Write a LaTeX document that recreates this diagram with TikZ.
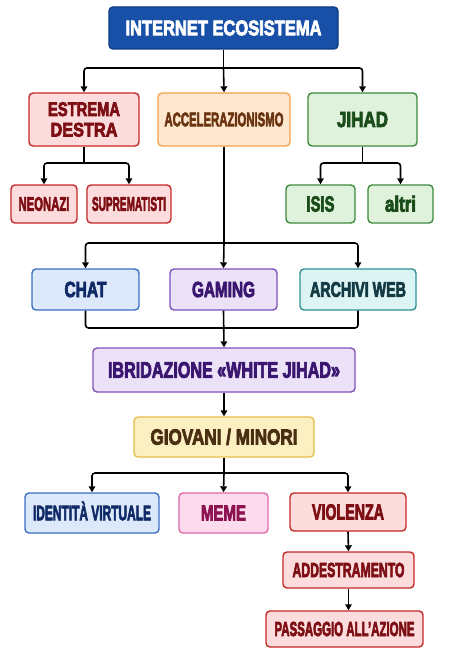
\documentclass[tikz,border=0pt]{standalone}
\usepackage{fontspec}
\setmainfont[BoldFeatures={FakeBold=4}]{Liberation Sans}
\usetikzlibrary{arrows.meta}
\newcommand\mytx[3]{\resizebox{#2pt}{#1pt}{\fontsize{20}{20}\selectfont\bfseries\raisebox{0pt}[\fontcharht\font`\I][0pt]{#3}}}
\definecolor{redfill}{HTML}{FCDCDC}\definecolor{redline}{HTML}{C62828}\definecolor{redtext}{HTML}{7D0F14}
\definecolor{orfill}{HTML}{FDE8CF}\definecolor{orline}{HTML}{F2A347}\definecolor{ortext}{HTML}{6B3410}
\definecolor{grfill}{HTML}{E0F2DC}\definecolor{grline}{HTML}{3D8B3D}\definecolor{grtext}{HTML}{1B4D1B}
\definecolor{blfill}{HTML}{DDE9FA}\definecolor{blline}{HTML}{3A6FC4}\definecolor{bltext}{HTML}{0F2A66}
\definecolor{vifill}{HTML}{ECE2F8}\definecolor{viline}{HTML}{7E52BC}\definecolor{vitext}{HTML}{3B1670}
\definecolor{tefill}{HTML}{DDF4F4}\definecolor{teline}{HTML}{2E8F94}\definecolor{tetext}{HTML}{143A44}
\definecolor{yefill}{HTML}{FCEFC2}\definecolor{yeline}{HTML}{E6BE4A}\definecolor{yetext}{HTML}{4A2E12}
\definecolor{pifill}{HTML}{FCDCEC}\definecolor{piline}{HTML}{E06AA8}\definecolor{pitext}{HTML}{8C1252}
\definecolor{tifill}{HTML}{1850A8}\definecolor{tiline}{HTML}{0D3B85}
\tikzset{
  box/.style={draw, line width=1.4pt, rounded corners=4pt, inner sep=0pt, align=center, font=\fontsize{12}{20.5}\selectfont},
  redbox/.style={box, fill=redfill, draw=redline, text=redtext},
  orbox/.style={box, fill=orfill, draw=orline, text=ortext},
  grbox/.style={box, fill=grfill, draw=grline, text=grtext},
  blbox/.style={box, fill=blfill, draw=blline, text=bltext},
  vibox/.style={box, fill=vifill, draw=viline, text=vitext},
  tebox/.style={box, fill=tefill, draw=teline, text=tetext},
  yebox/.style={box, fill=yefill, draw=yeline, text=yetext},
  pibox/.style={box, fill=pifill, draw=piline, text=pitext},
  tibox/.style={box, fill=tifill, draw=tiline, text=white},
  wire/.style={line width=1.6pt, black, rounded corners=3pt},
  arr/.style={wire, -{Triangle[length=6pt,width=6.5pt]}},
}
\begin{document}
\begin{tikzpicture}[x=1pt,y=-1pt]
\useasboundingbox[fill=white] (0,0) rectangle (450,671);
\node[tibox, minimum width=229pt, minimum height=42pt] (title) at (223.5,28) {\mytx{14.5}{196}{INTERNET ECOSISTEMA}};
\node[redbox, minimum width=110pt, minimum height=53pt] (ed) at (84,119.5) {\mytx{13.5}{72}{ESTREMA}\\\mytx{13.5}{67}{DESTRA}};
\node[orbox, minimum width=132pt, minimum height=53pt] (acc) at (224,119.5) {\mytx{13.5}{119}{ACCELERAZIONISMO}};
\node[grbox, minimum width=109pt, minimum height=53pt] (jihad) at (362.5,119.5) {\mytx{15}{51}{JIHAD}};
\node[redbox, minimum width=66pt, minimum height=38pt] (neo) at (44,204) {\mytx{13.5}{51}{NEONAZI}};
\node[redbox, minimum width=84pt, minimum height=38pt] (sup) at (129,204) {\mytx{13.5}{74}{SUPREMATISTI}};
\node[grbox, minimum width=69pt, minimum height=38pt] (isis) at (320.5,204) {\mytx{15}{28}{ISIS}};
\node[grbox, minimum width=65pt, minimum height=38pt] (altri) at (400.5,204) {\mytx{15}{31}{altri}};
\node[blbox, minimum width=107pt, minimum height=41pt] (chat) at (85.5,289.5) {\mytx{15}{42}{CHAT}};
\node[vibox, minimum width=107pt, minimum height=41pt] (gaming) at (223.5,289.5) {\mytx{15}{63}{GAMING}};
\node[tebox, minimum width=116pt, minimum height=41pt] (archivi) at (358,289.5) {\mytx{14.5}{96}{ARCHIVI WEB}};
\node[vibox, minimum width=262pt, minimum height=44pt] (ibr) at (224,370) {\mytx{15.5}{232}{IBRIDAZIONE «WHITE JIHAD»}};
\node[yebox, minimum width=180pt, minimum height=40pt] (gio) at (224,437) {\mytx{15}{147}{GIOVANI / MINORI}};
\node[blbox, minimum width=134pt, minimum height=40pt] (ident) at (92,513) {\mytx{14.5}{118}{IDENTITÀ VIRTUALE}};
\node[pibox, minimum width=89pt, minimum height=40pt] (meme) at (223.5,513) {\mytx{15}{45}{MEME}};
\node[redbox, minimum width=116pt, minimum height=38pt] (viol) at (348,512) {\mytx{15}{72}{VIOLENZA}};
\node[redbox, minimum width=131pt, minimum height=36pt] (add) at (348.5,570) {\mytx{14}{112}{ADDESTRAMENTO}};
\node[redbox, minimum width=157pt, minimum height=36pt] (pass) at (344.5,629) {\mytx{14}{140}{PASSAGGIO ALL'AZIONE}};
% connectors
\coordinate (j1) at (223.5,68);
\draw[wire] (title.south) -- (j1);
\draw[arr] (j1) -| (ed.north);
\draw[arr] (j1) -- (acc.north);
\draw[arr] (j1) -| (jihad.north);
\coordinate (j2) at (84,163);
\draw[wire] (ed.south) -- (j2);
\draw[arr] (j2) -| (neo.north);
\draw[arr] (j2) -| (sup.north);
\coordinate (j3) at (362.5,163);
\draw[wire] (jihad.south) -- (j3);
\draw[arr] (j3) -| (isis.north);
\draw[arr] (j3) -| (altri.north);
\coordinate (j4) at (224,243);
\draw[wire] (acc.south) -- (j4);
\draw[arr] (j4) -| (chat.north);
\draw[arr] (j4) -- (gaming.north);
\draw[arr] (j4) -| (archivi.north);
\coordinate (j5) at (223.5,328);
\draw[wire] (chat.south) |- (j5);
\draw[wire] (archivi.south) |- (j5);
\draw[arr] (gaming.south) -- (ibr.north);
\draw[arr] (ibr.south) -- (gio.north);
\coordinate (j6) at (224,473);
\draw[wire] (gio.south) -- (j6);
\draw[arr] (j6) -| (ident.north);
\draw[arr] (j6) -- (meme.north);
\draw[arr] (j6) -| (viol.north);
\draw[arr] (viol.south) -- (add.north);
\draw[arr] (add.south) -- (add.south |- pass.north);
\end{tikzpicture}
\end{document}
